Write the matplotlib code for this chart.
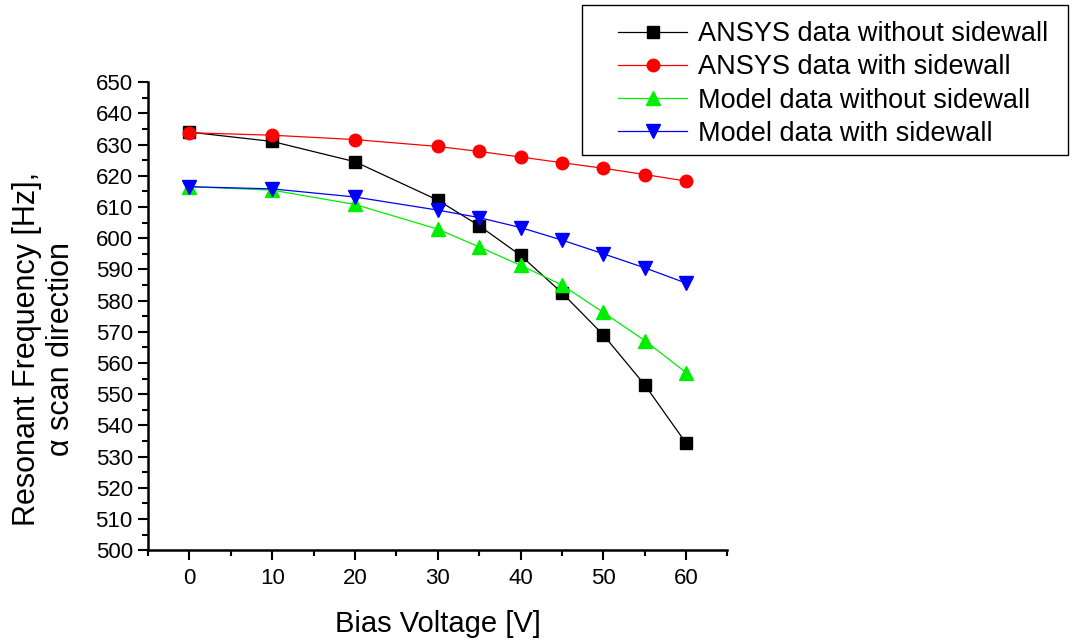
import numpy as np
import matplotlib.pyplot as plt
from matplotlib.ticker import MultipleLocator
from matplotlib.patches import Rectangle

plt.rcParams['font.family'] = ['Liberation Sans', 'DejaVu Sans']

# Données
tension = [0, 10, 20, 30, 35, 40, 45, 50, 55, 60]
ansys_sans = [634.0, 631.0, 624.5, 612.2, 604.0, 594.5, 582.5, 569.0, 553.0, 534.3]
ansys_avec = [633.8, 633.0, 631.6, 629.4, 627.8, 626.0, 624.2, 622.4, 620.4, 618.3]
modele_sans = [616.5, 615.4, 610.8, 602.9, 597.2, 591.3, 585.0, 576.2, 567.2, 556.9]
modele_avec = [616.5, 615.8, 613.2, 609.0, 606.6, 603.4, 599.4, 595.0, 590.5, 585.6]

W, H = 1073, 642
fig = plt.figure(figsize=(W / 100, H / 100), dpi=100)
ax = fig.add_axes([0.138, 0.143, 0.540, 0.729])

ax.plot(tension, ansys_sans, color='black', lw=0.9, marker='s', ms=8,
        label='ANSYS data without sidewall')
ax.plot(tension, ansys_avec, color='red', lw=0.9, marker='o', ms=9,
        label='ANSYS data with sidewall')
ax.plot(tension, modele_sans, color='#00ee00', lw=0.9, marker='^', ms=10,
        label='Model data without sidewall')
ax.plot(tension, modele_avec, color='blue', lw=0.9, marker='v', ms=10,
        label='Model data with sidewall')

ax.set_xlim(-5, 65)
ax.set_ylim(500, 650)
ax.xaxis.set_major_locator(MultipleLocator(10))
ax.xaxis.set_minor_locator(MultipleLocator(5))
ax.yaxis.set_major_locator(MultipleLocator(10))
ax.yaxis.set_minor_locator(MultipleLocator(5))

for s in ['top', 'right']:
    ax.spines[s].set_visible(False)
for s in ['left', 'bottom']:
    ax.spines[s].set_linewidth(1.8)
ax.tick_params(which='major', length=7, width=1.5, labelsize=16)
ax.tick_params(axis='y', which='major', pad=4)
ax.tick_params(axis='x', which='major', pad=6)
ax.tick_params(which='minor', length=4, width=1.5)

ax.set_xlabel('Bias Voltage [V]', fontsize=21, labelpad=15)
ax.set_ylabel('Resonant Frequency [Hz],\n\u03b1 scan direction', fontsize=22,
              linespacing=1.15)
ax.yaxis.set_label_coords(-0.125, 0.43)

# légende sans cadre + cadre dessiné à part
leg = fig.legend(loc='upper left', bbox_to_anchor=(618 / W, 1 - 21 / H),
                 fontsize=19.5, frameon=False, handlelength=2.55,
                 handletextpad=0.4, borderpad=0, labelspacing=0.27,
                 borderaxespad=0)
cadre = Rectangle((582 / W, 1 - 155 / H), 486 / W, 150 / H,
                  transform=fig.transFigure, fill=False, lw=1.0,
                  edgecolor='black')
fig.patches.append(cadre)

plt.savefig('out.png', dpi=100)
